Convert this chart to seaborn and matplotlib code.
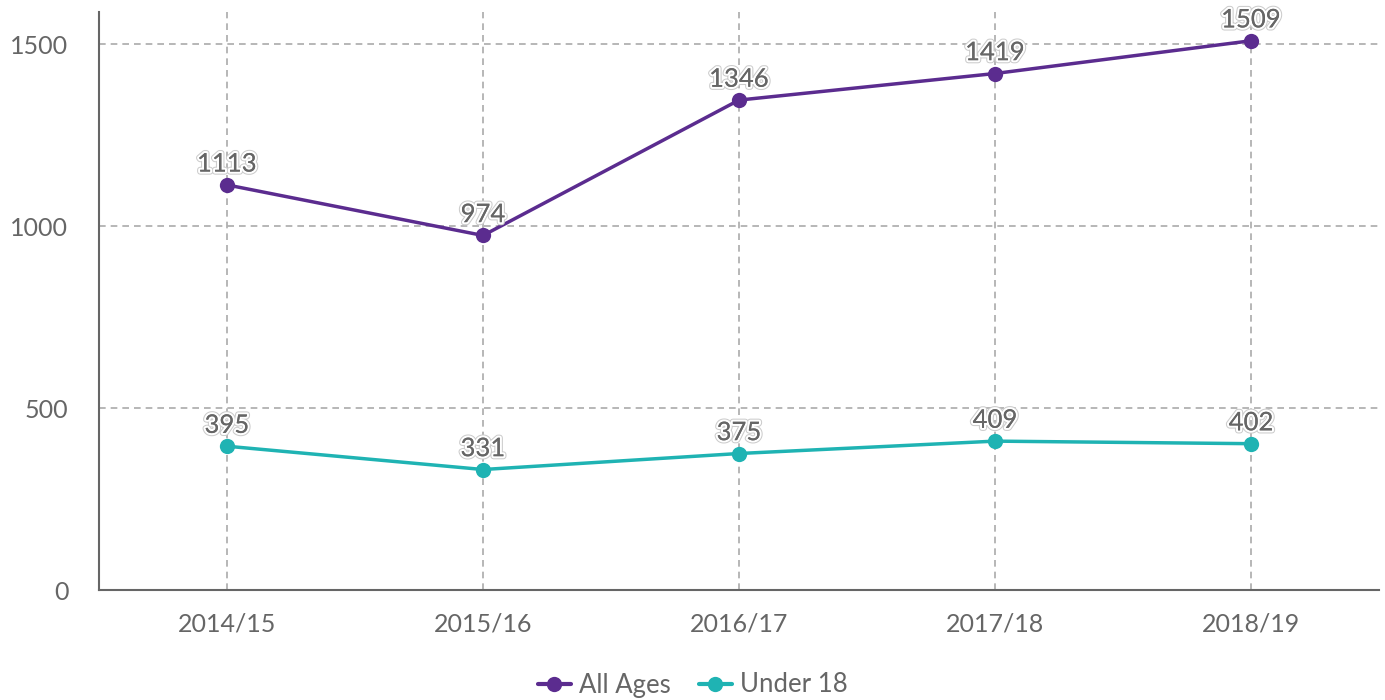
import matplotlib
matplotlib.use("Agg")
import matplotlib.pyplot as plt
import matplotlib.patheffects as pe
import seaborn as sns
import pandas as pd

# data
years = ["2014/15", "2015/16", "2016/17", "2017/18", "2018/19"]
all_ages = [1113, 974, 1346, 1419, 1509]
under_18 = [395, 331, 375, 409, 402]
series_names = ["All Ages", "Under 18"]
colors = ["#5b2c8f", "#1fb3b3"]

df = pd.DataFrame({
    "year": years * 2,
    "value": all_ages + under_18,
    "series": [series_names[0]] * 5 + [series_names[1]] * 5,
})

sns.set_style("white")
plt.rcParams["font.family"] = ["Lato", "DejaVu Sans"]

fig = plt.figure(figsize=(13.85, 7), dpi=100)
ax = fig.add_axes([99 / 1385, 1 - 590 / 700, 1280 / 1385, 578 / 700])

sns.lineplot(data=df, x="year", y="value", hue="series", palette=colors,
             marker="o", markersize=11, markeredgewidth=0, linewidth=2.5,
             sort=False, ax=ax, legend=False)

# value labels with a light halo
for vals in (all_ages, under_18):
    for i, v in enumerate(vals):
        ax.annotate(str(v), (i, v), xytext=(0, 6), textcoords="offset points",
                    ha="center", va="bottom", fontsize=18.5, color="#666666",
                    path_effects=[pe.withStroke(linewidth=4.5, foreground="#cccccc"),
                                  pe.withStroke(linewidth=3, foreground="white"),
                                  pe.Normal()], zorder=5)

ax.set_xlim(-0.5, 4.5)
ax.set_ylim(0, 1588)
ax.set_yticks([0, 500, 1000, 1500])
ax.set_xlabel("")
ax.set_ylabel("")
ax.grid(True, linestyle=(0, (4, 3)), color="#aaaaaa", linewidth=1.2)
ax.set_axisbelow(True)
for s in ["top", "right"]:
    ax.spines[s].set_visible(False)
for s in ["left", "bottom"]:
    ax.spines[s].set_color("#666666")
    ax.spines[s].set_linewidth(1.5)
ax.tick_params(axis="both", length=0, labelsize=18, colors="#666666")
ax.tick_params(axis="x", pad=16)
ax.tick_params(axis="y", pad=22)

handles = [plt.Line2D([], [], color=c, marker="o", markersize=11, linewidth=3, markeredgewidth=0)
           for c in colors]
fig.legend(handles, series_names, loc="center", bbox_to_anchor=(0.5, 1 - 685 / 700),
           ncol=2, frameon=False, fontsize=18.5, labelcolor="#666666",
           handlelength=1.3, handletextpad=0.3, columnspacing=1.1)

fig.savefig("out.png", dpi=100)
